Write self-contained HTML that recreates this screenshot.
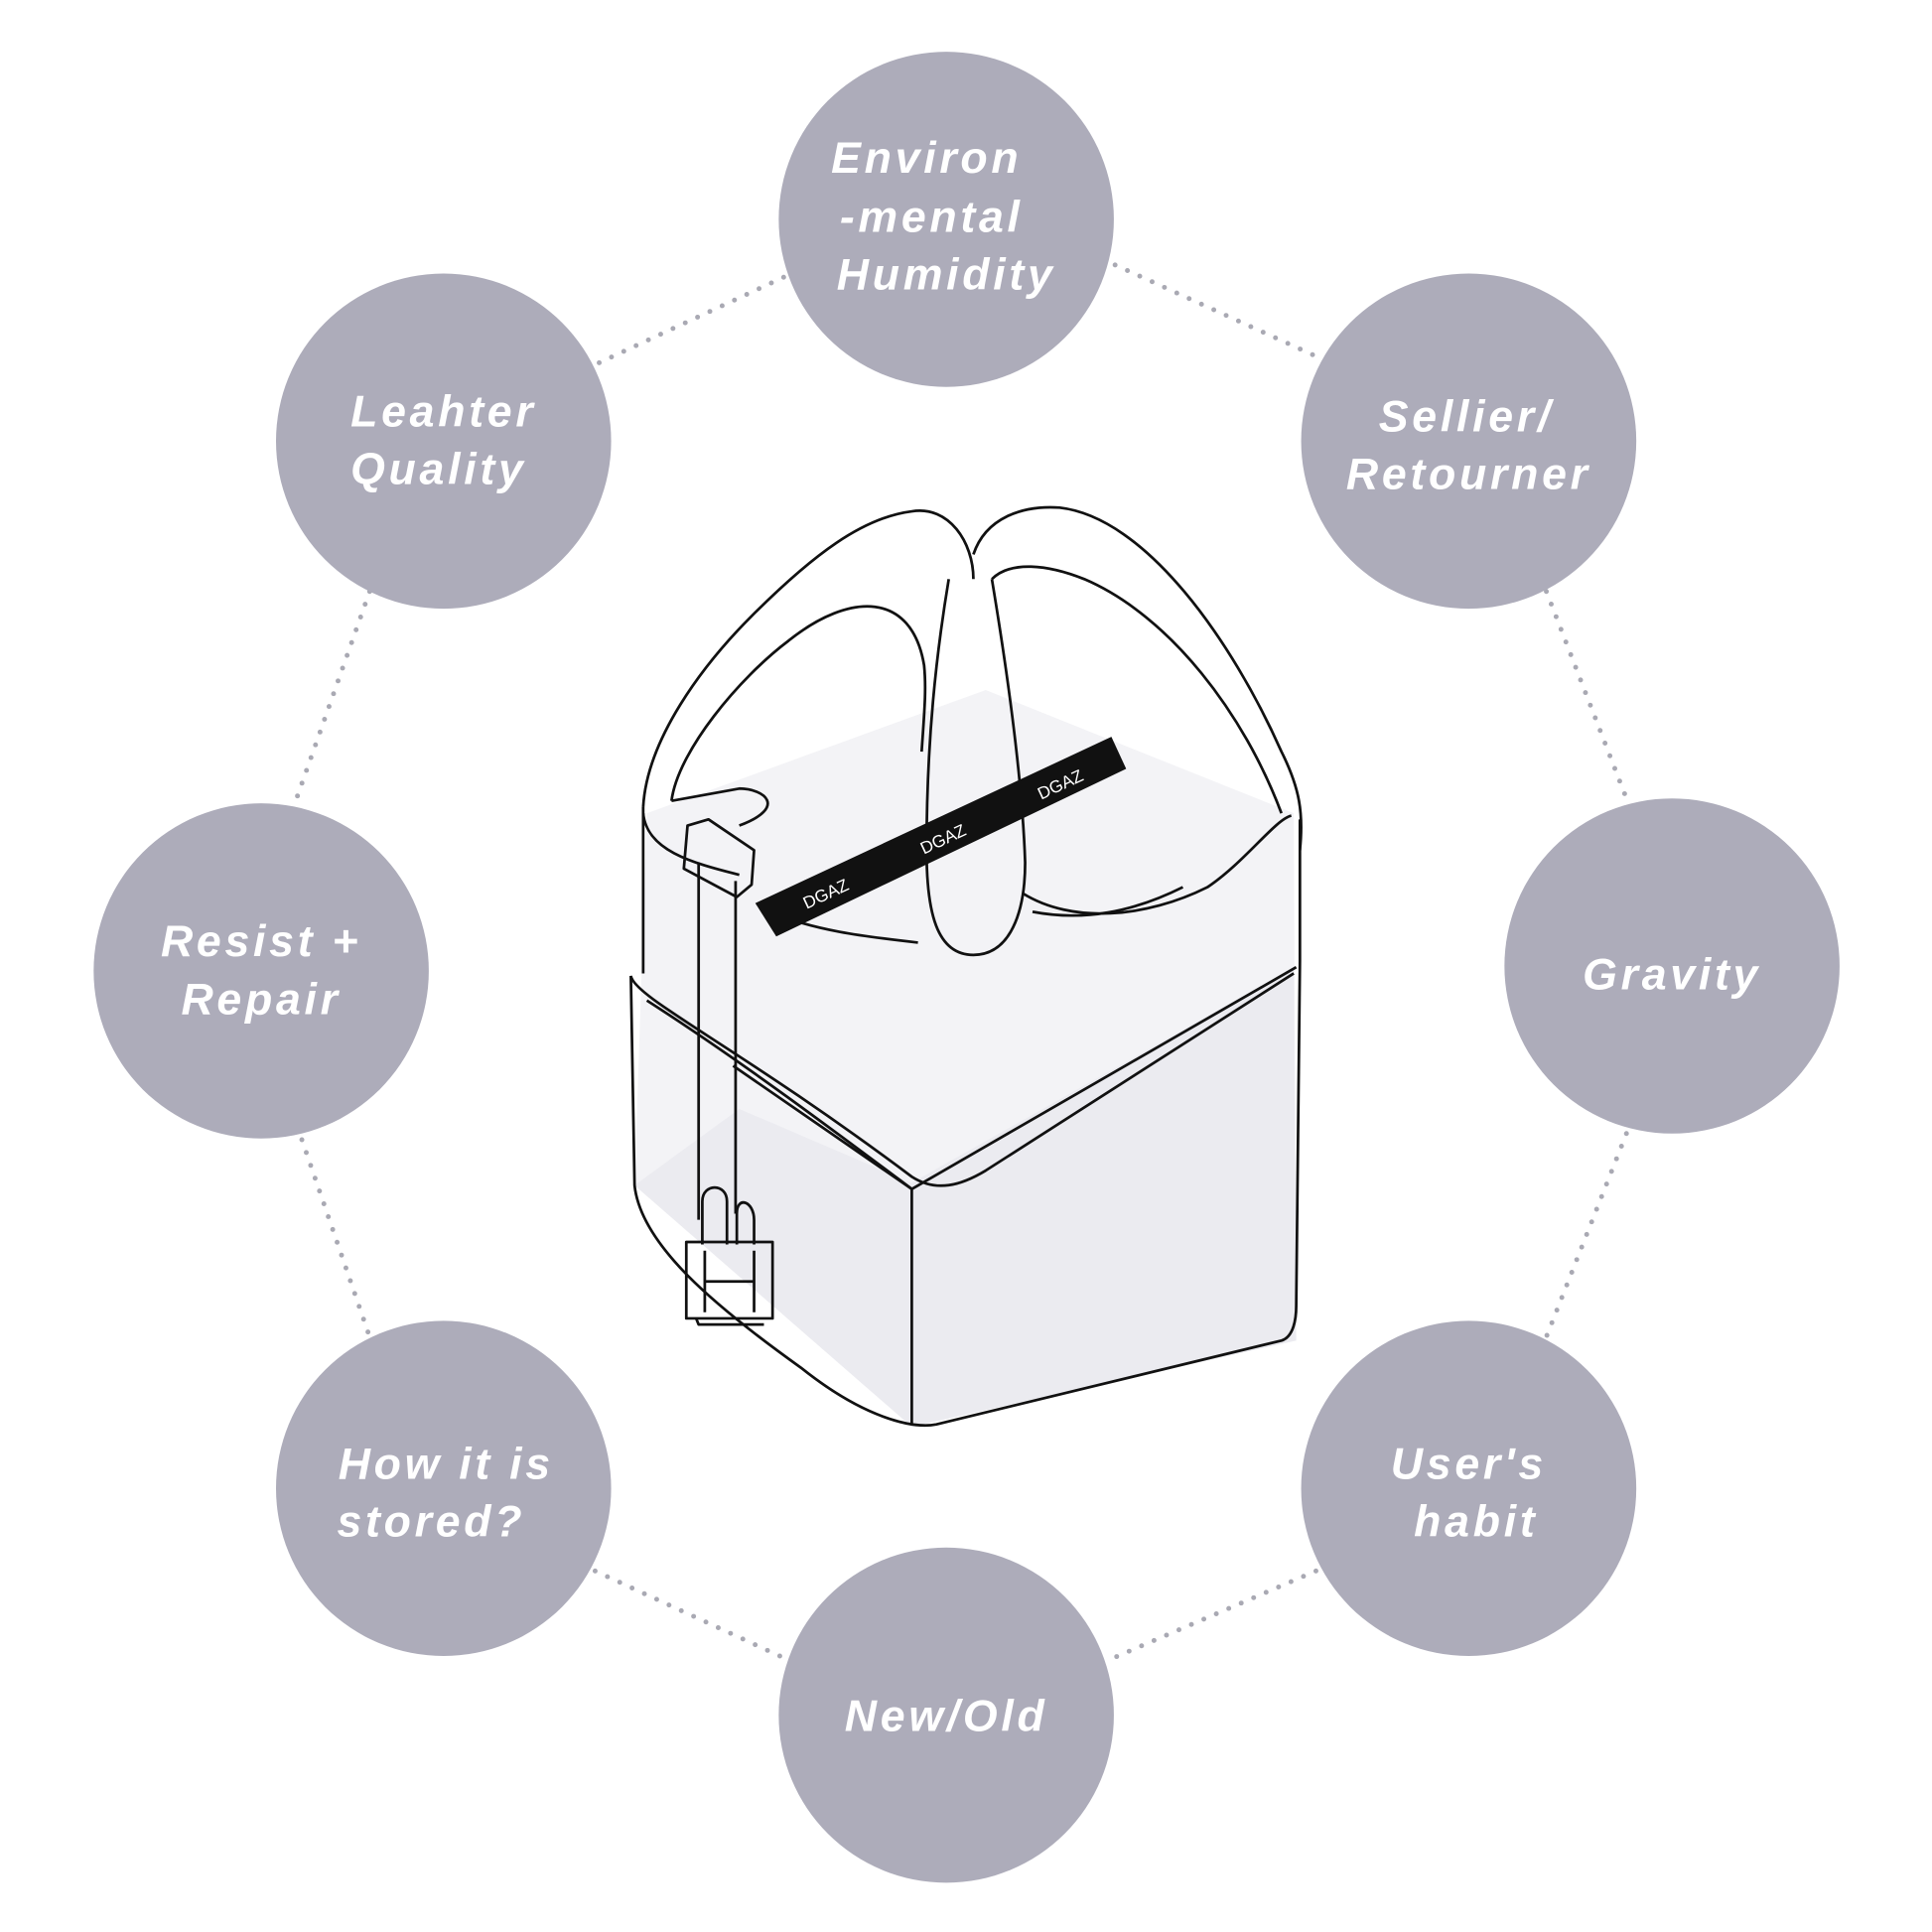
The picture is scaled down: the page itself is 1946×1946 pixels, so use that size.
<!DOCTYPE html>
<html><head><meta charset="utf-8"><style>
html,body{margin:0;padding:0;background:#fff;}
svg{display:block;}
.c{fill:#adacba;}
.t{fill:#fff;font-family:"Liberation Sans",sans-serif;font-weight:bold;font-style:italic;font-size:36px;letter-spacing:3px;text-anchor:middle;}
.d{stroke:#a9a9b3;stroke-width:4;stroke-linecap:round;stroke-dasharray:0 11;fill:none;}
.o{fill:none;stroke:#111;stroke-width:2.2;stroke-linejoin:round;}
</style></head><body>
<svg width="1946" height="1946" viewBox="0 0 1568 1568" xmlns="http://www.w3.org/2000/svg">
<rect width="1568" height="1568" fill="#fff"/>
<g class="d">
<line x1="636" y1="225" x2="485" y2="295"/>
<line x1="905" y1="215" x2="1070" y2="290"/>
<line x1="300" y1="480" x2="240" y2="650"/>
<line x1="1255" y1="480" x2="1320" y2="648"/>
<line x1="245" y1="925" x2="300" y2="1085"/>
<line x1="1320" y1="920" x2="1255" y2="1085"/>
<line x1="483" y1="1275" x2="635" y2="1345"/>
<line x1="1068" y1="1275" x2="905" y2="1345"/>
</g>
<circle class="c" cx="768" cy="178" r="136"/>
<circle class="c" cx="360" cy="358" r="136"/>
<circle class="c" cx="1192" cy="358" r="136"/>
<circle class="c" cx="212" cy="788" r="136"/>
<circle class="c" cx="1357" cy="784" r="136"/>
<circle class="c" cx="360" cy="1208" r="136"/>
<circle class="c" cx="1192" cy="1208" r="136"/>
<circle class="c" cx="768" cy="1392" r="136"/>
<text class="t" x="752" y="140">Environ</text>
<text class="t" x="756" y="188">-mental</text>
<text class="t" x="768" y="235">Humidity</text>
<text class="t" x="360" y="346">Leahter</text>
<text class="t" x="356" y="393">Quality</text>
<text class="t" x="1190" y="350">Sellier/</text>
<text class="t" x="1192" y="397">Retourner</text>
<text class="t" x="212" y="776">Resist +</text>
<text class="t" x="212" y="823">Repair</text>
<text class="t" x="1357" y="803">Gravity</text>
<text class="t" x="362" y="1200">How it is</text>
<text class="t" x="350" y="1247">stored?</text>
<text class="t" x="1192" y="1200">User's</text>
<text class="t" x="1198" y="1247">habit</text>
<text class="t" x="768" y="1405">New/Old</text>
<!-- bag -->
<path d="M525,660 L800,560 L1050,660 L1052,1088 L740,1158 L515,962 Z" fill="#f3f3f6"/>
<path d="M600,900 L740,960 L1050,785 L1052,1088 L740,1158 L515,962 Z" fill="#ebebf0"/>
<path class="o" d="M522,655 C525,600 570,540 610,500 C660,450 700,420 740,415 C770,410 790,440 790,470"/>
<path class="o" d="M545,650 C550,610 600,550 640,520 C690,480 740,480 750,540 C752,560 750,580 748,610"/>
<path class="o" d="M790,450 C800,420 830,410 860,412 C930,420 1000,520 1040,610 C1055,640 1058,660 1055,690"/>
<path class="o" d="M805,470 C820,455 850,458 880,470 C950,500 1010,580 1040,660"/>
<path class="o" d="M770,470 C760,530 752,600 752,690 C752,740 760,775 790,775 C820,775 832,740 832,700 C830,640 820,560 805,470"/>
<path class="o" d="M522,660 C525,690 560,700 600,710 M545,650 L600,640 C620,640 640,655 600,670"/>
<path class="o" d="M830,725 C870,750 930,745 980,720 C1010,700 1035,665 1048,662"/>
<path class="o" d="M522,655 L522,790 M1055,665 L1055,780"/>
<path class="o" d="M512,792 L515,962 C520,1010 580,1060 650,1110 C700,1150 740,1160 760,1156 L1040,1088 C1050,1085 1052,1070 1052,1060 L1055,780"/>
<path class="o" d="M512,792 C515,810 600,850 740,955 C760,968 780,962 800,950 L1050,790"/>
<path class="o" d="M525,812 C600,860 680,920 740,965"/>
<path class="o" d="M595,865 L740,965 L1052,785"/>
<path class="o" d="M740,965 L740,1155"/>
<path class="o" d="M625,740 C660,755 700,760 745,765 M838,740 C880,748 920,740 960,720"/>
<!-- black strap -->
<polygon points="613,733 902,598 914,624 630,760" fill="#111"/>
<g fill="#fff" font-family="Liberation Sans,sans-serif" font-size="14" transform="rotate(-25 760 680)">
<text x="640" y="688">DGAZ</text><text x="745" y="688">DGAZ</text><text x="850" y="688">DGAZ</text></g>
<!-- lock strap -->
<path class="o" d="M567,700 L567,990 M597,715 L597,985" />
<path class="o" d="M558,670 L575,665 L612,690 L610,718 L598,728 L555,705 Z" fill="#fff"/>
<path class="o" d="M570,1010 L570,975 C570,960 590,960 590,975 L590,1010 M598,1010 L598,985 C598,970 612,975 612,990 L612,1010"/>
<rect class="o" x="557" y="1008" width="70" height="62" fill="#fff"/>
<path class="o" d="M572,1015 L572,1065 M612,1015 L612,1065 M572,1040 L612,1040 M565,1070 L567,1075 L620,1075"/>
</svg>
</body></html>
